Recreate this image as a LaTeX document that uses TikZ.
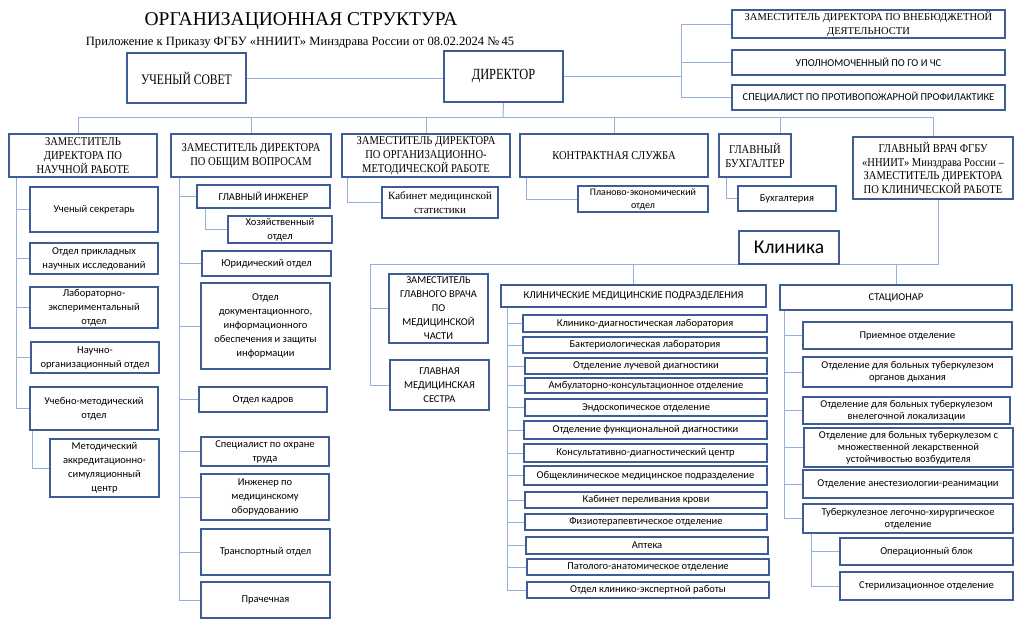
\documentclass[tikz,border=0pt]{standalone}
\usepackage{fontspec}
\setmainfont{Liberation Serif}
\newfontfamily\calfont{Carlito}
\newfontfamily\condser[FakeStretch=0.8]{Liberation Serif}
\newfontfamily\condhd[FakeStretch=0.88]{Liberation Serif}
\definecolor{bord}{RGB}{62,92,150}
\definecolor{conn}{RGB}{150,176,222}
\pgfdeclarelayer{background}
\pgfsetlayers{background,main}
\tikzset{
  box/.style={draw=bord,line width=1.2pt,fill=white,inner sep=0pt,align=center},
  hd/.style={font=\condhd\fontsize{12}{14}\selectfont},
  cb/.style={font=\calfont\fontsize{10.5}{14}\selectfont},
  cbs/.style={font=\calfont\fontsize{10.5}{12}\selectfont},
  ser/.style={font=\fontsize{11}{14}\selectfont},
  ln/.style={draw=conn,line width=1pt}
}
\newcommand{\bbox}[7][]{%
  \pgfmathsetmacro\bw{#5-#3}\pgfmathsetmacro\bh{#6-#4}%
  \node[box,#1,minimum width=\bw pt,minimum height=\bh pt] (#2) at ({(#3+#5)/2},{(#4+#6)/2}) {#7};}
\begin{document}
\begin{tikzpicture}[x=1pt,y=-1pt]
\useasboundingbox (0,0) rectangle (1024,622);
% titles
\node[font=\fontsize{19.5}{22}\selectfont] (title) at (301,21) {ОРГАНИЗАЦИОННАЯ СТРУКТУРА};
\node[font=\fontsize{12.6}{15}\selectfont] (sub) at (300,43) {Приложение к Приказу ФГБУ «ННИИТ» Минздрава России от 08.02.2024 №\,45};
% top level
\bbox[font=\condser\fontsize{14.5}{17}\selectfont]{us}{127}{53}{246}{103}{УЧЕНЫЙ СОВЕТ}
\bbox[font=\condser\fontsize{15.5}{17}\selectfont]{dir}{444}{51}{563}{102}{ДИРЕКТОР}
\bbox[font=\fontsize{10.5}{14}\selectfont]{r1}{732}{10}{1005}{38}{ЗАМЕСТИТЕЛЬ ДИРЕКТОРА ПО ВНЕБЮДЖЕТНОЙ\\ДЕЯТЕЛЬНОСТИ}
\bbox[cb]{r2}{732}{50}{1005}{75}{УПОЛНОМОЧЕННЫЙ ПО ГО И ЧС}
\bbox[cb]{r3}{732}{85}{1005}{110}{СПЕЦИАЛИСТ ПО ПРОТИВОПОЖАРНОЙ ПРОФИЛАКТИКЕ}
% headings
\bbox[hd]{h1}{9}{134}{157}{177}{ЗАМЕСТИТЕЛЬ\\ДИРЕКТОРА ПО\\НАУЧНОЙ РАБОТЕ}
\bbox[hd]{h2}{171}{134}{331}{177}{ЗАМЕСТИТЕЛЬ ДИРЕКТОРА\\ПО ОБЩИМ ВОПРОСАМ}
\bbox[hd]{h3}{342}{134}{510}{177}{ЗАМЕСТИТЕЛЬ ДИРЕКТОРА\\ПО ОРГАНИЗАЦИОННО-\\МЕТОДИЧЕСКОЙ РАБОТЕ}
\bbox[hd]{h4}{520}{134}{708}{177}{КОНТРАКТНАЯ СЛУЖБА}
\bbox[hd]{h5}{719}{134}{791}{177}{ГЛАВНЫЙ\\БУХГАЛТЕР}
\bbox[font=\condhd\fontsize{12}{13.5}\selectfont]{h6}{853}{137}{1013}{199}{ГЛАВНЫЙ ВРАЧ ФГБУ\\«ННИИТ» Минздрава России –\\ЗАМЕСТИТЕЛЬ ДИРЕКТОРА\\ПО КЛИНИЧЕСКОЙ РАБОТЕ}
\bbox[ser]{kab}{382}{187}{498}{218}{Кабинет медицинской\\статистики}
\bbox[font=\calfont\fontsize{10}{13}\selectfont]{plan}{578}{186}{708}{212}{Планово-экономический\\отдел}
\bbox[cb]{buh}{738}{186}{836}{211}{Бухгалтерия}
% left column
\bbox[cb]{a1}{30}{187}{158}{232}{Ученый секретарь}
\bbox[cb]{a2}{30}{243}{158}{274}{Отдел прикладных\\научных исследований}
\bbox[cb]{a3}{30}{287}{158}{328}{Лабораторно-\\экспериментальный\\отдел}
\bbox[cb]{a4}{31}{342}{159}{373}{Научно-\\организационный отдел}
\bbox[cb]{a5}{30}{387}{158}{430}{Учебно-методический\\отдел}
\bbox[cb]{a6}{50}{439}{159}{497}{Методический\\аккредитационно-\\симуляционный\\центр}
% second column
\bbox[cb]{b1}{197}{185}{330}{208}{ГЛАВНЫЙ ИНЖЕНЕР}
\bbox[cb]{b2}{228}{216}{332}{243}{Хозяйственный\\отдел}
\bbox[cb]{b3}{202}{251}{331}{276}{Юридический отдел}
\bbox[cb]{b4}{201}{283}{330}{369}{Отдел\\документационного,\\информационного\\обеспечения и защиты\\информации}
\bbox[cb]{b5}{199}{387}{327}{412}{Отдел кадров}
\bbox[cb]{b6}{201}{437}{329}{466}{Специалист по охране\\труда}
\bbox[cb]{b7}{201}{474}{329}{520}{Инженер по\\медицинскому\\оборудованию}
\bbox[cb]{b8}{201}{529}{330}{575}{Транспортный отдел}
\bbox[cb]{b9}{201}{582}{330}{618}{Прачечная}
% clinic
\bbox[font=\calfont\fontsize{19.5}{22}\selectfont]{klin}{739}{231}{839}{264}{Клиника}
\bbox[cb]{zg}{389}{274}{488}{343}{ЗАМЕСТИТЕЛЬ\\ГЛАВНОГО ВРАЧА\\ПО\\МЕДИЦИНСКОЙ\\ЧАСТИ}
\bbox[cb]{gms}{390}{360}{489}{410}{ГЛАВНАЯ\\МЕДИЦИНСКАЯ\\СЕСТРА}
\bbox[cb]{kmp}{501}{285}{766}{307}{КЛИНИЧЕСКИЕ МЕДИЦИНСКИЕ ПОДРАЗДЕЛЕНИЯ}
\bbox[cb]{k1}{523}{315}{767}{332}{Клинико-диагностическая лаборатория}
\bbox[cb]{k2}{523}{337}{767}{353}{Бактериологическая лаборатория}
\bbox[cb]{k3}{525}{358}{767}{374}{Отделение лучевой диагностики}
\bbox[cb]{k4}{525}{378}{767}{393}{Амбулаторно-консультационное отделение}
\bbox[cb]{k5}{525}{399}{767}{416}{Эндоскопическое отделение}
\bbox[cb]{k6}{524}{421}{767}{439}{Отделение функциональной диагностики}
\bbox[cb]{k7}{524}{444}{767}{462}{Консультативно-диагностический центр}
\bbox[cb]{k8}{524}{466}{767}{485}{Общеклиническое медицинское подразделение}
\bbox[cb]{k9}{525}{492}{767}{508}{Кабинет переливания крови}
\bbox[cb]{k10}{525}{514}{767}{530}{Физиотерапевтическое отделение}
\bbox[cb]{k11}{526}{537}{768}{554}{Аптека}
\bbox[cb]{k12}{527}{559}{769}{575}{Патолого-анатомическое отделение}
\bbox[cb]{k13}{527}{582}{769}{598}{Отдел клинико-экспертной работы}
\bbox[cb]{stac}{780}{285}{1012}{310}{СТАЦИОНАР}
\bbox[cbs]{s1}{803}{322}{1012}{349}{Приемное отделение}
\bbox[cbs]{s2}{803}{357}{1012}{387}{Отделение для больных туберкулезом\\органов дыхания}
\bbox[cbs]{s3}{803}{397}{1010}{424}{Отделение для больных туберкулезом\\внелегочной локализации}
\bbox[cbs]{s4}{804}{428}{1013}{467}{Отделение для больных туберкулезом с\\множественной лекарственной\\устойчивостью возбудителя}
\bbox[cbs]{s5}{803}{470}{1013}{498}{Отделение анестезиологии-реанимации}
\bbox[cbs]{s6}{803}{504}{1013}{533}{Туберкулезное легочно-хирургическое\\отделение}
\bbox[cbs]{s7}{840}{538}{1013}{565}{Операционный блок}
\bbox[cbs]{s8}{840}{572}{1013}{600}{Стерилизационное отделение}
% connectors
\coordinate (bus) at (503,117);
\coordinate (rj) at (681,76.5);
\coordinate (kl) at (370,264);
\begin{pgfonlayer}{background}
\fill[white] (0,0) rectangle (1024,622);
\draw[ln] (us.east) -- (us.east -| dir.west);
\draw[ln] (dir.east) -- (rj);
\foreach \r in {r1,r2,r3} \draw[ln] (rj) |- (\r.west);
\draw[ln] (dir.south) -- (bus);
\draw[ln] ([xshift=-5pt]h1.north) |- (bus);
\foreach \h in {h2,h3,h4,h6} \draw[ln] (\h.north) |- (bus);
\draw[ln] ([xshift=25pt]h5.north) |- (bus);
\foreach \c in {a1,a2,a3,a4,a5} \draw[ln] ([xshift=8pt]h1.south west) |- (\c.west);
\draw[ln] ([xshift=3pt]a5.south west) |- (a6.west);
\foreach \c in {b1,b3,b4,b5,b6,b7,b8,b9} \draw[ln] ([xshift=9pt]h2.south west) |- (\c.west);
\draw[ln] ([xshift=9pt]b1.south west) |- (b2.west);
\draw[ln] ([xshift=6pt]h3.south west) |- (kab.west);
\draw[ln] ([xshift=7pt]h4.south west) |- (plan.west);
\draw[ln] ([xshift=8pt]h5.south west) |- (buh.west);
\draw[ln] ([xshift=5pt]h6.south) |- (kl);
\draw[ln] (kl) |- (zg.west);
\draw[ln] (kl) |- (gms.west);
\draw[ln] (kmp.north) -- (kmp.north |- kl);
\draw[ln] (stac.north) -- (stac.north |- kl);
\foreach \c in {k1,k2,k3,k4,k5,k6,k7,k8,k9,k10,k11,k12,k13} \draw[ln] ([xshift=7pt]kmp.south west) |- (\c.west);
\foreach \c in {s1,s2,s3,s4,s5,s6} \draw[ln] ([xshift=5pt]stac.south west) |- (\c.west);
\foreach \c in {s7,s8} \draw[ln] ([xshift=9pt]s6.south west) |- (\c.west);
\end{pgfonlayer}
\end{tikzpicture}
\end{document}
